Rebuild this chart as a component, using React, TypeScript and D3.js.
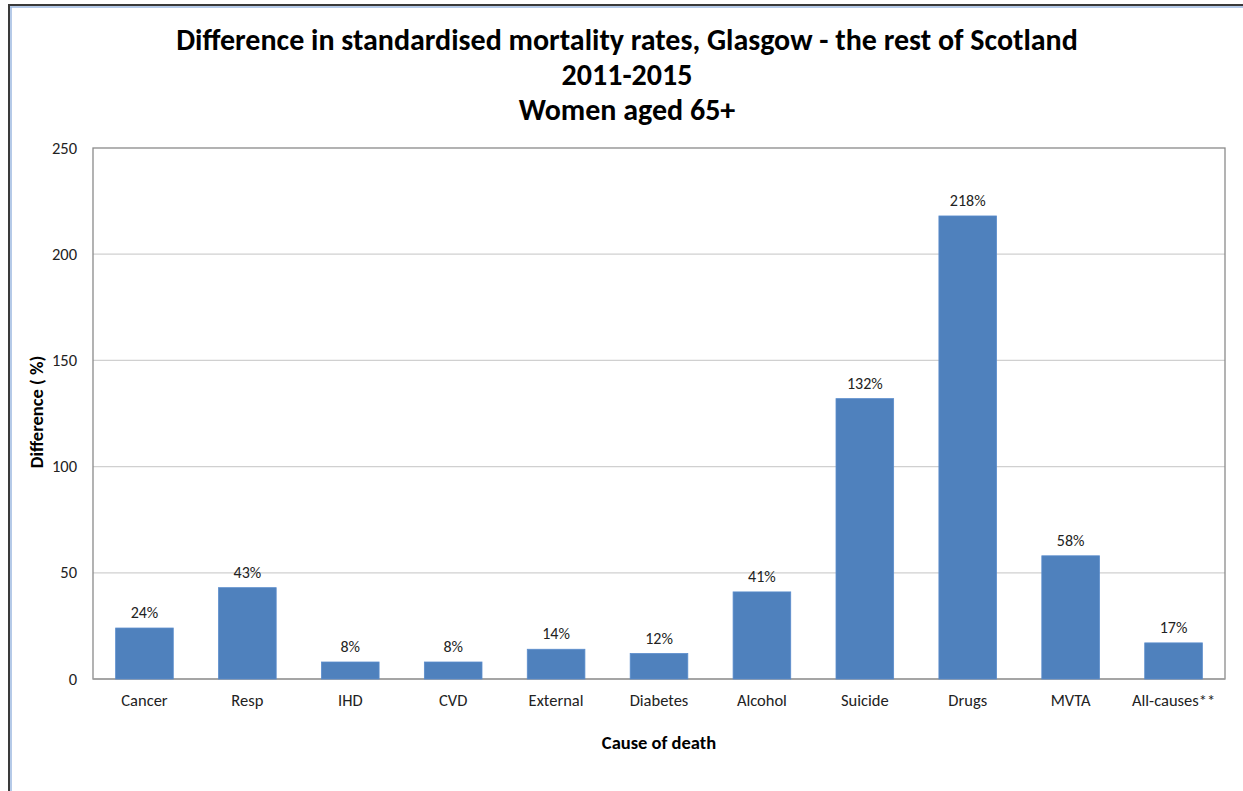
import React from "react";
import * as d3 from "d3";

const categories = ["Cancer", "Resp", "IHD", "CVD", "External", "Diabetes", "Alcohol", "Suicide", "Drugs", "MVTA", "All-causes**"];
const values = [24, 43, 8, 8, 14, 12, 41, 132, 218, 58, 17];
const yTicks = [0, 50, 100, 150, 200, 250];
const titleLines = ["Difference in standardised mortality rates, Glasgow - the rest of Scotland", "2011-2015", "Women aged 65+"];

const W = 1243, H = 791;
const m = { left: 93, right: 1225, top: 148, bottom: 679 };
const font = "Carlito, Calibri, 'Open Sans', 'Noto Sans', sans-serif";

export default function App() {
  const x = d3.scaleBand<string>().domain(categories).range([m.left, m.right]).paddingInner(0.44).paddingOuter(0.22);
  const y = d3.scaleLinear().domain([0, 250]).range([m.bottom, m.top]);
  return (
    <div style={{ position: "absolute", left: 0, top: 0 }}>
      <svg width={W} height={H} style={{ display: "block", background: "#fff" }} fontFamily={font}>
        <line x1={9} y1={5} x2={9} y2={H} stroke="#3a3a3a" strokeWidth={2} />
        <line x1={11} y1={7} x2={11} y2={H} stroke="#9db9e0" strokeWidth={1.5} />
        <line x1={8} y1={5} x2={W} y2={5} stroke="#3a3a3a" strokeWidth={2} />
        <line x1={10} y1={7} x2={W} y2={7} stroke="#9db9e0" strokeWidth={1.5} />
        {titleLines.map((t, i) => (
          <text key={i} x={627} y={50 + i * 35} textAnchor="middle" fontSize={30} fontWeight="bold" fill="#000">{t}</text>
        ))}
        {yTicks.map((t) => (
          <g key={t}>
            {t > 0 && t < 250 && <line x1={m.left} x2={m.right} y1={y(t)} y2={y(t)} stroke="#d0d0d0" strokeWidth={1.3} />}
            <text x={m.left - 16} y={y(t) + 5.5} textAnchor="end" fontSize={16.5} fill="#222">{t}</text>
          </g>
        ))}
        <rect x={m.left} y={m.top} width={m.right - m.left} height={m.bottom - m.top} fill="none" stroke="#8a8a8a" strokeWidth={1.3} />
        <line x1={m.left} x2={m.right} y1={m.bottom} y2={m.bottom} stroke="#a0a0a0" strokeWidth={1.5} />
        {categories.map((c, i) => {
          const bx = x(c)!;
          const bw = x.bandwidth();
          return (
            <g key={c}>
              <rect x={bx} y={y(values[i])} width={bw} height={y(0) - y(values[i])} fill="#4F81BD" stroke="#5a8ccc" strokeWidth={0.8} />
              <text x={bx + bw / 2} y={y(values[i]) - 10} textAnchor="middle" fontSize={16} fill="#222">{values[i]}%</text>
              <text x={bx + bw / 2} y={m.bottom + 27} textAnchor="middle" fontSize={16.5} fill="#222">{c}</text>
            </g>
          );
        })}
        <text x={(m.left + m.right) / 2} y={749} textAnchor="middle" fontSize={18.5} fontWeight="bold" fill="#000">Cause of death</text>
        <text transform={`translate(43,412) rotate(-90)`} textAnchor="middle" fontSize={18.5} fontWeight="bold" fill="#000">Difference ( %)</text>
      </svg>
    </div>
  );
}
